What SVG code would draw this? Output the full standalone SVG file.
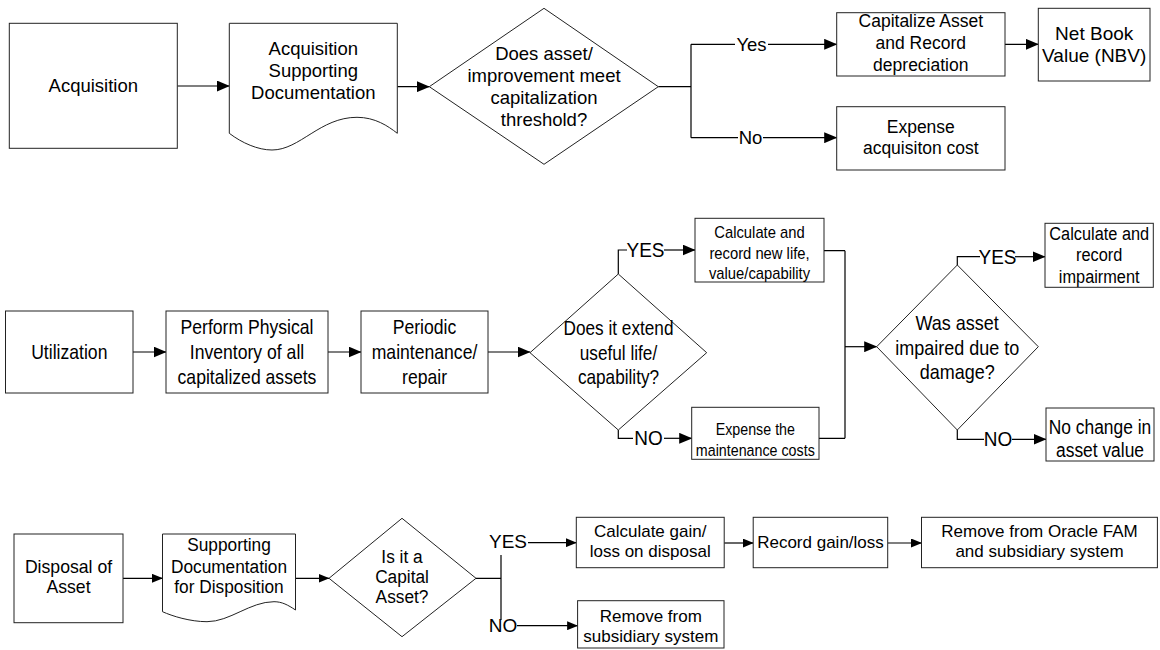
<svg xmlns="http://www.w3.org/2000/svg" width="1160" height="650" viewBox="0 0 1160 650">
<defs>
<style>
.box{fill:#fff;stroke:#222;stroke-width:1}
.ln{fill:none;stroke:#000;stroke-width:1.2}
.ar{fill:none;stroke:#000;stroke-width:1.2;marker-end:url(#ah)}
.ars{fill:none;stroke:#000;stroke-width:1.2;marker-end:url(#ahs)}
text{font-family:"Liberation Sans",Arial,sans-serif;fill:#000;text-anchor:middle;dominant-baseline:central}
.f185{font-size:18.5px}
.f17{font-size:17px}
.f175{font-size:17.5px}
.f19{font-size:19px}
.f20{font-size:20px}
.f18{font-size:18px}
</style>
<marker id="ah" markerUnits="userSpaceOnUse" markerWidth="13" markerHeight="11" refX="12.5" refY="5.5" orient="auto" viewBox="0 0 13 11"><path d="M0,0 L13,5.5 L0,11 Z" fill="#000"/></marker>
<marker id="ahs" markerUnits="userSpaceOnUse" markerWidth="11" markerHeight="9" refX="10.5" refY="4.5" orient="auto" viewBox="0 0 11 9"><path d="M0,0 L11,4.5 L0,9 Z" fill="#000"/></marker>
</defs>
<rect width="1160" height="650" fill="#fff"/>

<g id="connectors">
<!-- row 1 -->
<path class="ar" d="M177.3,86 H229.3"/>
<path class="ar" d="M397.3,86.7 H429.3"/>
<path class="ln" d="M658.3,86.7 H691 M691,44.3 V137.7"/>
<path class="ln" d="M691,44.3 H735"/>
<path class="ar" d="M768,44.3 H836.7"/>
<path class="ln" d="M691,137.7 H738"/>
<path class="ar" d="M763,137.7 H836.7"/>
<path class="ar" d="M1005,44.3 H1038.3"/>
<text class="f185" x="751.5" y="44.3">Yes</text>
<text class="f185" x="750.5" y="137.7">No</text>
<!-- row 2 -->
<path class="ar" d="M133,352 H166"/>
<path class="ar" d="M328,352 H361"/>
<path class="ar" d="M488,352 H530"/>
<path class="ln" d="M618.3,274 V250 H627"/>
<path class="ar" d="M664,250 H695"/>
<path class="ln" d="M618.3,430 V438.3 H633"/>
<path class="ar" d="M664,438.3 H691.7"/>
<path class="ln" d="M824,250.7 H845 M819,438.3 H845 M845,250.7 V438.3"/>
<path class="ar" d="M845,346.7 H876.7"/>
<path class="ln" d="M957.3,265 V256.7 H980"/>
<path class="ar" d="M1015,256.7 H1045"/>
<path class="ln" d="M957.3,430 V439.3 H984"/>
<path class="ar" d="M1012,439.3 H1046"/>
<g transform="translate(645.5 0) scale(0.95 1)"><text class="f20" x="0" y="250">YES</text></g>
<g transform="translate(648.5 0) scale(0.95 1)"><text class="f20" x="0" y="438.3">NO</text></g>
<g transform="translate(997.5 0) scale(0.95 1)"><text class="f20" x="0" y="256.7">YES</text></g>
<g transform="translate(998 0) scale(0.95 1)"><text class="f20" x="0" y="439.3">NO</text></g>
<!-- row 3 -->
<path class="ars" d="M123,578.3 H162.5"/>
<path class="ars" d="M295.5,578.3 H329"/>
<path class="ln" d="M476,578.3 H501 M501,555 V620"/>
<path class="ars" d="M528,542.7 H576.3"/>
<path class="ars" d="M517,625.7 H577.6"/>
<path class="ars" d="M724.2,543 H753.2"/>
<path class="ars" d="M887.7,543 H921.5"/>
<text class="f19" x="508" y="541.7">YES</text>
<text class="f19" x="503" y="625.7">NO</text>
</g>

<!-- Row 1 nodes -->
<g id="n-acquisition">
<rect class="box" x="9.3" y="23.3" width="168" height="125"/>
<text class="f185" x="93.3" y="85.5">Acquisition</text>
</g>
<g id="n-acq-doc">
<path class="box" d="M229.3,23.3 H397.3 V133.3 C388,126 375,117.3 357,117.3 C320,117.3 300,150 272,150 C258,150 242,143 229.3,133.3 Z"/>
<text class="f185" x="313.3" y="48">Acquisition</text>
<text class="f185" x="313.3" y="70">Supporting</text>
<text class="f185" x="313.3" y="92">Documentation</text>
</g>
<g id="n-threshold">
<polygon class="box" points="429.3,86.7 544,8.3 658.3,86.7 544,164.3"/>
<text class="f185" x="544" y="53.3">Does asset/</text>
<text class="f185" x="544" y="75">improvement meet</text>
<text class="f185" x="544" y="97.3">capitalization</text>
<text class="f185" x="544" y="119">threshold?</text>
</g>
<g id="n-capitalize">
<rect class="box" x="836.7" y="12.7" width="168.3" height="63.3"/>
<text class="f175" x="920.8" y="21">Capitalize Asset</text>
<text class="f175" x="920.8" y="43.3">and Record</text>
<text class="f175" x="920.8" y="64.5">depreciation</text>
</g>
<g id="n-expense-acq">
<rect class="box" x="836.7" y="106.7" width="168.3" height="63.3"/>
<text class="f175" x="920.8" y="126.7">Expense</text>
<text class="f175" x="920.8" y="148.3">acquisiton cost</text>
</g>
<g id="n-nbv">
<rect class="box" x="1038.3" y="8.3" width="111.7" height="72.7"/>
<text class="f19" x="1094.2" y="33.3">Net Book</text>
<text class="f19" x="1094.2" y="55">Value (NBV)</text>
</g>

<!-- Row 2 nodes -->
<g id="n-utilization">
<rect class="box" x="5.5" y="311" width="127.5" height="82"/>
<g transform="translate(69.3 0) scale(0.88 1)"><text class="f20" x="0" y="352">Utilization</text></g>
</g>
<g id="n-inventory">
<rect class="box" x="166" y="311" width="162" height="82"/>
<g transform="translate(247 0) scale(0.88 1)">
<text class="f20" x="0" y="327">Perform Physical</text>
<text class="f20" x="0" y="352">Inventory of all</text>
<text class="f20" x="0" y="377">capitalized assets</text>
</g>
</g>
<g id="n-maintenance">
<rect class="box" x="361" y="311" width="127" height="82"/>
<g transform="translate(424.5 0) scale(0.88 1)">
<text class="f20" x="0" y="327">Periodic</text>
<text class="f20" x="0" y="352">maintenance/</text>
<text class="f20" x="0" y="377">repair</text>
</g>
</g>
<g id="n-extend">
<polygon class="box" points="530,352.7 618.3,274 706.7,352.7 618.3,430"/>
<g transform="translate(618.5 0) scale(0.86 1)">
<text class="f20" x="0" y="328">Does it extend</text>
<text class="f20" x="0" y="353">useful life/</text>
<text class="f20" x="0" y="377">capability?</text>
</g>
</g>
<g id="n-newlife">
<rect class="box" x="695" y="218.3" width="129" height="63.7"/>
<g transform="translate(759.5 0) scale(0.87 1)">
<text class="f17" x="0" y="232">Calculate and</text>
<text class="f17" x="0" y="252.8">record new life,</text>
<text class="f17" x="0" y="273">value/capability</text>
</g>
</g>
<g id="n-expense-maint">
<rect class="box" x="691.7" y="407.3" width="127.3" height="52"/>
<g transform="translate(755.3 0) scale(0.84 1)">
<text class="f17" x="0" y="429.5">Expense the</text>
<text class="f17" x="0" y="450">maintenance costs</text>
</g>
</g>
<g id="n-impaired">
<polygon class="box" points="876.7,346.7 957.3,265 1038.3,346.7 957.3,430"/>
<g transform="translate(957.2 0) scale(0.9 1)">
<text class="f20" x="0" y="323.3">Was asset</text>
<text class="f20" x="0" y="348.3">impaired due to</text>
<text class="f20" x="0" y="371.7">damage?</text>
</g>
</g>
<g id="n-impairment">
<rect class="box" x="1045" y="223.3" width="108.3" height="64"/>
<g transform="translate(1099.2 0) scale(0.86 1)">
<text class="f19" x="0" y="233.3">Calculate and</text>
<text class="f19" x="0" y="255">record</text>
<text class="f19" x="0" y="276.7">impairment</text>
</g>
</g>
<g id="n-nochange">
<rect class="box" x="1046" y="408" width="108" height="53"/>
<g transform="translate(1100 0) scale(0.87 1)">
<text class="f20" x="0" y="427">No change in</text>
<text class="f20" x="0" y="450">asset value</text>
</g>
</g>

<!-- Row 3 nodes -->
<g id="n-disposal">
<rect class="box" x="14" y="534" width="109" height="88.7"/>
<g transform="translate(68.5 0) scale(0.98 1)">
<text class="f18" x="0" y="566.7">Disposal of</text>
<text class="f18" x="0" y="587.3">Asset</text>
</g>
</g>
<g id="n-disp-doc">
<path class="box" d="M162.5,534 H295.5 V610 C288,605 282,601.7 274,601.7 C250,601.7 230,621.7 207,621.7 C190,621.7 172,616 162.5,611.7 Z"/>
<g transform="translate(229 0) scale(0.96 1)">
<text class="f18" x="0" y="545">Supporting</text>
<text class="f18" x="0" y="566.7">Documentation</text>
<text class="f18" x="0" y="587.3">for Disposition</text>
</g>
</g>
<g id="n-capital">
<polygon class="box" points="329,578.3 402,518.3 476,578.3 402,636.7"/>
<g transform="translate(402 0) scale(0.96 1)">
<text class="f18" x="0" y="556.7">Is it a</text>
<text class="f18" x="0" y="577.3">Capital</text>
<text class="f18" x="0" y="597.3">Asset?</text>
</g>
</g>
<g id="n-gainloss">
<rect class="box" x="576.3" y="517.3" width="147.9" height="50.4"/>
<text class="f17" x="650.2" y="531.7">Calculate gain/</text>
<text class="f17" x="650.2" y="551.7">loss on disposal</text>
</g>
<g id="n-record">
<rect class="box" x="753.2" y="517.3" width="134.5" height="50.4"/>
<text class="f17" x="820.5" y="542.5">Record gain/loss</text>
</g>
<g id="n-remove-fam">
<rect class="box" x="921.5" y="517.3" width="235.9" height="50.4"/>
<text class="f17" x="1039.5" y="531.7">Remove from Oracle FAM</text>
<text class="f17" x="1039.5" y="551.7">and subsidiary system</text>
</g>
<g id="n-remove-sub">
<rect class="box" x="577.6" y="600.7" width="146.4" height="47.3"/>
<text class="f17" x="650.8" y="616">Remove from</text>
<text class="f17" x="650.8" y="636">subsidiary system</text>
</g>
</svg>
